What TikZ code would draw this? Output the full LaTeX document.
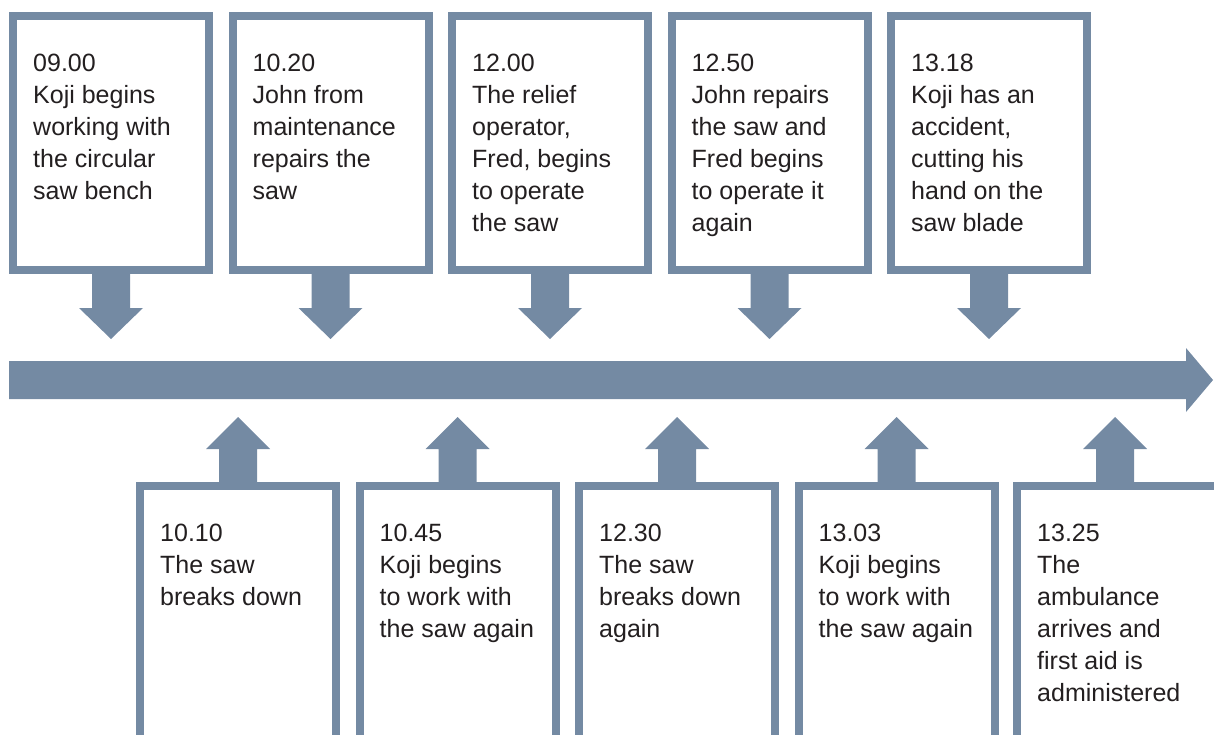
\documentclass[tikz,border=0pt]{standalone}
\usepackage{fontspec}
\setmainfont{Liberation Sans}
\usetikzlibrary{calc}
\definecolor{slate}{HTML}{748AA3}
\definecolor{ink}{HTML}{231F20}
\tikzset{
  evbox/.style={draw=slate, line width=8pt, fill=white, inner sep=0pt, minimum width=196pt},
  topbox/.style={evbox, minimum height=254pt},
  botbox/.style={evbox, minimum height=290pt},
  evtext/.style={anchor=north west, inner sep=0pt, align=left, text=ink,
    font=\fontsize{25}{32}\selectfont},
  blockfill/.style={fill=slate, draw=none}
}
\newcommand{\fs}{\rule{0pt}{20pt}}
\begin{document}
\begin{tikzpicture}[x=1pt,y=-1pt]
\useasboundingbox (0,0) rectangle (1214,735);
\clip (0,0) rectangle (1214,735);
% timeline
\coordinate (tlstart) at (9,380);
\coordinate (tlend) at (1213,380);
\fill[blockfill] ($(tlstart)+(0,-19)$) -- ($(tlend)+(-27,-19)$) -- ($(tlend)+(-27,-32)$) -- (tlend)
  -- ($(tlend)+(-27,32)$) -- ($(tlend)+(-27,19)$) -- ($(tlstart)+(0,19)$) -- cycle;
% top boxes
\foreach \i/\cx in {1/111, 2/330.5, 3/550, 4/769.5, 5/989}{
  \node[topbox] (t\i) at (\cx,143) {};
  \fill[blockfill] ($(t\i.south)+(-19,-4)$) -- ($(t\i.south)+(-19,34)$) -- ($(t\i.south)+(-32,34)$)
    -- ($(t\i.south)+(0,65)$) -- ($(t\i.south)+(32,34)$) -- ($(t\i.south)+(19,34)$) -- ($(t\i.south)+(19,-4)$) -- cycle;
}
% bottom boxes
\foreach \i/\cx in {1/238, 2/457.5, 3/677, 4/896.5}{
  \node[botbox] (b\i) at (\cx,631) {};
}
\node[botbox, minimum width=230pt] (b5) at (1132,631) {};
\foreach \i in {1,...,5}{
  \coordinate (ba\i) at ($(b\i.north west)+(102,0)$);
  \fill[blockfill] ($(ba\i)+(-19,4)$) -- ($(ba\i)+(-19,-33)$) -- ($(ba\i)+(-32,-33)$)
    -- ($(ba\i)+(0,-65)$) -- ($(ba\i)+(32,-33)$) -- ($(ba\i)+(19,-33)$) -- ($(ba\i)+(19,4)$) -- cycle;
}
% texts
\node[evtext] (tx1) at ($(t1.north west)+(24,39)$) {\fs 09.00\\Koji begins\\working with\\the circular\\saw bench};
\node[evtext] (tx2) at ($(t2.north west)+(24,39)$) {\fs 10.20\\John from\\maintenance\\repairs the\\saw};
\node[evtext] (tx3) at ($(t3.north west)+(24,39)$) {\fs 12.00\\The relief\\operator,\\Fred, begins\\to operate\\the saw};
\node[evtext] (tx4) at ($(t4.north west)+(24,39)$) {\fs 12.50\\John repairs\\the saw and\\Fred begins\\to operate it\\again};
\node[evtext] (tx5) at ($(t5.north west)+(24,39)$) {\fs 13.18\\Koji has an\\accident,\\cutting his\\hand on the\\saw blade};
\node[evtext] (bx1) at ($(b1.north west)+(24,39)$) {\fs 10.10\\The saw\\breaks down};
\node[evtext] (bx2) at ($(b2.north west)+(24,39)$) {\fs 10.45\\Koji begins\\to work with\\the saw again};
\node[evtext] (bx3) at ($(b3.north west)+(24,39)$) {\fs 12.30\\The saw\\breaks down\\again};
\node[evtext] (bx4) at ($(b4.north west)+(24,39)$) {\fs 13.03\\Koji begins\\to work with\\the saw again};
\node[evtext] (bx5) at ($(b5.north west)+(24,39)$) {\fs 13.25\\The\\ambulance\\arrives and\\first aid is\\administered};
\end{tikzpicture}
\end{document}
